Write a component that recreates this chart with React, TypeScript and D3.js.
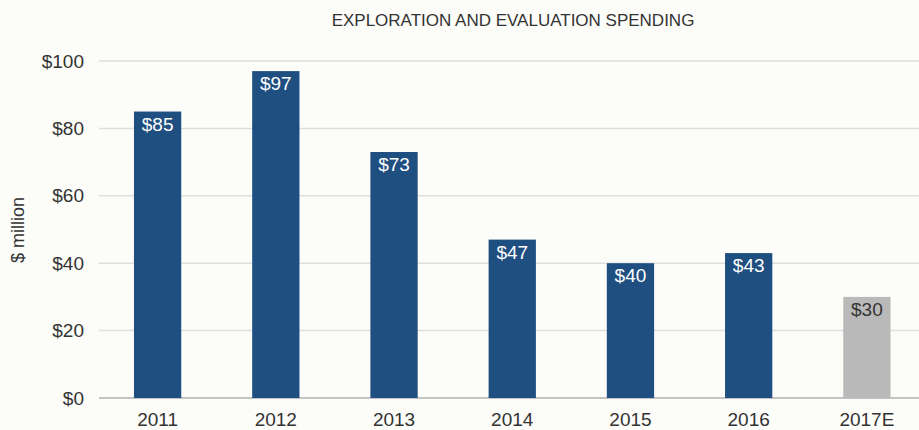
import React, { useRef, useEffect } from 'react';
import * as d3 from 'd3';

// chart data
const years: string[] = ['2011', '2012', '2013', '2014', '2015', '2016', '2017E'];
const spending: number[] = [85, 97, 73, 47, 40, 43, 30];
const estimated: boolean[] = [false, false, false, false, false, false, true];
const yTicks: number[] = [0, 20, 40, 60, 80, 100];

const WIDTH = 919;
const HEIGHT = 430;
const FONT = '"Liberation Sans", Arial, Helvetica, sans-serif';

const App: React.FC = () => {
  const svgRef = useRef<SVGSVGElement | null>(null);

  useEffect(() => {
    if (!svgRef.current) return;
    const svg = d3.select(svgRef.current);
    svg.selectAll('*').remove();

    const x = d3.scaleBand<string>()
      .domain(years)
      .range([98.5, 926])
      .paddingInner(0.6)
      .paddingOuter(0.3);

    const y = d3.scaleLinear()
      .domain([0, 100])
      .range([398, 61]);

    svg.append('rect')
      .attr('width', WIDTH)
      .attr('height', HEIGHT)
      .attr('fill', '#fcfcf9');

    // gridlines
    svg.append('g')
      .selectAll('line')
      .data(yTicks)
      .enter()
      .append('line')
      .attr('x1', 99)
      .attr('x2', WIDTH)
      .attr('y1', d => y(d))
      .attr('y2', d => y(d))
      .attr('stroke', d => (d === 0 ? '#b0b0b0' : '#dedede'))
      .attr('stroke-width', 1.5);

    // y tick labels
    svg.append('g')
      .selectAll('text')
      .data(yTicks)
      .enter()
      .append('text')
      .attr('x', 84)
      .attr('y', d => y(d))
      .attr('dy', '0.35em')
      .attr('text-anchor', 'end')
      .attr('font-family', FONT)
      .attr('font-size', 19)
      .attr('fill', '#333')
      .text(d => `$${d}`);

    const data = years.map((year, i) => ({ year, value: spending[i], est: estimated[i] }));

    // bars
    svg.append('g')
      .selectAll('rect')
      .data(data)
      .enter()
      .append('rect')
      .attr('x', d => x(d.year) as number)
      .attr('width', x.bandwidth())
      .attr('y', d => y(d.value))
      .attr('height', d => y(0) - y(d.value))
      .attr('fill', d => (d.est ? '#b9b9b9' : '#1f4e80'));

    // value labels inside the bars
    svg.append('g')
      .selectAll('text')
      .data(data)
      .enter()
      .append('text')
      .attr('x', d => (x(d.year) as number) + x.bandwidth() / 2)
      .attr('y', d => y(d.value) + 19)
      .attr('text-anchor', 'middle')
      .attr('font-family', FONT)
      .attr('font-size', 19)
      .attr('fill', d => (d.est ? '#333' : '#fff'))
      .text(d => `$${d.value}`);

    // x tick labels
    svg.append('g')
      .selectAll('text')
      .data(years)
      .enter()
      .append('text')
      .attr('x', d => (x(d) as number) + x.bandwidth() / 2)
      .attr('y', 426)
      .attr('text-anchor', 'middle')
      .attr('font-family', FONT)
      .attr('font-size', 19)
      .attr('fill', '#333')
      .text(d => d);

    // axis title
    svg.append('text')
      .attr('transform', 'translate(24,230) rotate(-90)')
      .attr('text-anchor', 'middle')
      .attr('font-family', FONT)
      .attr('font-size', 18)
      .attr('fill', '#333')
      .text('$ million');

    // chart title
    svg.append('text')
      .attr('x', 513)
      .attr('y', 25.5)
      .attr('text-anchor', 'middle')
      .attr('font-family', FONT)
      .attr('font-size', 17)
      .attr('fill', '#333')
      .text('EXPLORATION AND EVALUATION SPENDING');
  }, []);

  return (
    <svg
      ref={svgRef}
      width={WIDTH}
      height={HEIGHT}
      style={{ position: 'absolute', top: 0, left: 0, display: 'block' }}
    />
  );
};

export default App;
